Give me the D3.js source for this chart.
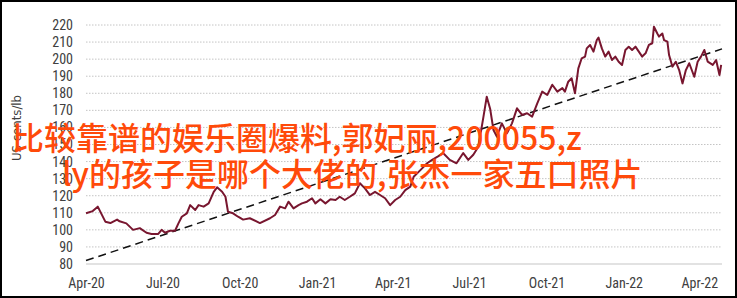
<!DOCTYPE html>
<html>
<head>
<meta charset="utf-8">
<title>coffee price</title>
<script src="https://cdn.jsdelivr.net/npm/d3@7"></script>
<style>
  body { margin: 0; background: #fff; }
  svg { display: block; }
  .tick text { font-family: "Liberation Sans Narrow", "Roboto Condensed", "DejaVu Sans Condensed", sans-serif; }
</style>
</head>
<body>
<svg id="chart" width="737" height="298"></svg>
<script>
// series (US cents/lb)
var dates = ["2020-04-01","2020-04-09","2020-04-15","2020-04-24","2020-04-30","2020-05-08","2020-05-11","2020-05-19",
  "2020-05-27","2020-06-04","2020-06-12","2020-06-18","2020-06-26","2020-06-30","2020-07-04","2020-07-10","2020-07-16",
  "2020-07-20","2020-07-24","2020-07-30","2020-08-03","2020-08-09","2020-08-13","2020-08-19","2020-08-25","2020-08-31",
  "2020-09-04","2020-09-10","2020-09-14","2020-09-17","2020-09-23","2020-09-29","2020-10-05","2020-10-13","2020-10-25",
  "2020-11-06","2020-11-12","2020-11-18","2020-11-24","2020-11-28","2020-12-04","2020-12-10","2020-12-14","2020-12-20",
  "2020-12-26","2020-12-30","2021-01-05","2021-01-11","2021-01-17","2021-01-23","2021-01-28","2021-02-03","2021-02-09",
  "2021-02-15","2021-02-21","2021-02-27","2021-03-05","2021-03-11","2021-03-17","2021-03-23","2021-03-29","2021-04-04",
  "2021-04-10","2021-04-16","2021-04-22","2021-04-26","2021-05-04","2021-05-12","2021-05-18","2021-05-25","2021-05-31",
  "2021-06-08","2021-06-16","2021-06-24","2021-06-30","2021-07-06","2021-07-12","2021-07-18","2021-07-22","2021-07-26",
  "2021-07-30","2021-08-03","2021-08-09","2021-08-15","2021-08-21","2021-08-27","2021-09-02","2021-09-08","2021-09-14",
  "2021-09-20","2021-09-26","2021-10-02","2021-10-08","2021-10-14","2021-10-20","2021-10-23","2021-10-27","2021-10-31",
  "2021-11-04","2021-11-08","2021-11-12","2021-11-16","2021-11-18","2021-11-22","2021-11-26","2021-11-30","2021-12-02",
  "2021-12-06","2021-12-10","2021-12-14","2021-12-18","2021-12-22","2021-12-26","2021-12-30","2022-01-03","2022-01-07",
  "2022-01-11","2022-01-15","2022-01-19","2022-01-23","2022-01-27","2022-01-31","2022-02-04","2022-02-06","2022-02-10",
  "2022-02-12","2022-02-16","2022-02-18","2022-02-22","2022-02-24","2022-02-28","2022-03-04","2022-03-08","2022-03-12",
  "2022-03-16","2022-03-20","2022-03-26","2022-03-30","2022-04-03","2022-04-07","2022-04-11","2022-04-17","2022-04-21",
  "2022-04-25","2022-04-27"];
var prices = [109.7,111,113.6,104.8,104,106,105,103.8,
  100,101,98.3,97.6,97.6,100,98.3,99.5,99.5,
  103.8,107.7,109.7,114.5,111.6,114.5,113.6,115.5,122.3,
  124.9,122.3,119.4,110.6,109.7,107.7,106,106.8,104,
  106.8,108.7,113.6,112.6,116.5,112.6,114.5,115.5,116.5,
  118.5,115.5,117.9,115.5,117.9,117.5,119.4,117.5,119.4,
  121.4,127.3,124.3,120.4,122.3,120.4,118.5,114.5,117.5,
  119.4,123.3,125.3,131.1,135,139,141,143,145,
  141,139,145,141,144,148.7,166,178,171,
  158.5,154.6,162.4,156.5,162.4,171.2,167.3,168.3,166.3,
  174,181,179,185,181,183,181,186.8,188.8,
  180,194.6,200.5,201.5,206.3,208.3,204.4,211.2,212.6,
  206.3,201.5,204.4,199.5,201.5,198.5,196.6,205.4,207.3,
  205.4,207.3,204.4,201.5,203.4,208.3,209.3,219,215,
  213.2,215,211.2,210.2,202.4,195.6,198.5,193.6,185.8,
  193.6,197.6,189.7,198.5,201.5,205.4,198.5,196.6,199.5,
  190.7,196.6];

// dashed trend line end points
var trendDates = ["2020-04-01", "2022-04-28"];
var trendValues = [82, 206];

var yTicks = [80, 90, 100, 110, 120, 130, 140, 150, 160, 170, 180, 190, 200, 210, 220];
var xTickDates = ["2020-04-01","2020-07-01","2020-10-01","2021-01-01","2021-04-01","2021-07-01","2021-10-01","2022-01-01","2022-04-01"];
var xTickLabels = ["Apr-20","Jul-20","Oct-20","Jan-21","Apr-21","Jul-21","Oct-21","Jan-22","Apr-22"];

var overlayLines = ["比较靠谱的娱乐圈爆料,郭妃丽,200055,z", "ly的孩子是哪个大佬的,张杰一家五口照片"];

var parse = d3.timeParse("%Y-%m-%d");
var W = 737, H = 298;
var plotL = 86, plotR = 722, plotT = 25, plotB = 264;

var svg = d3.select("#chart");

var x = d3.scaleTime()
  .domain([parse("2020-04-01"), parse("2022-04-28")])
  .range([plotL, plotR]);
var y = d3.scaleLinear().domain([80, 220]).range([plotB, plotT]);

// dotted gridlines
svg.append("g")
  .selectAll("line")
  .data(yTicks.filter(function(d) { return d > 80; }))
  .enter().append("line")
  .attr("x1", plotL).attr("x2", plotR)
  .attr("y1", function(d) { return y(d); })
  .attr("y2", function(d) { return y(d); })
  .attr("stroke", "#c4c4c4")
  .attr("stroke-width", 1)
  .attr("stroke-dasharray", "1.5,1.5");

// y axis labels
var yAxis = svg.append("g")
  .attr("transform", "translate(" + (plotL - 13) + ",0)")
  .call(d3.axisLeft(y).tickValues(yTicks).tickSize(0).tickPadding(0));
yAxis.select(".domain").remove();
yAxis.selectAll("text").attr("font-size", 14).attr("fill", "#404040");

// baseline
svg.append("line")
  .attr("x1", plotL).attr("x2", plotR)
  .attr("y1", y(80)).attr("y2", y(80))
  .attr("stroke", "#d9d9d9").attr("stroke-width", 1.5);

// x axis labels
var xAxis = svg.append("g")
  .attr("transform", "translate(0," + (y(80) + 14) + ")")
  .call(d3.axisBottom(x)
    .tickValues(xTickDates.map(parse))
    .tickFormat(function(d, i) { return xTickLabels[i]; })
    .tickSize(0).tickPadding(0));
xAxis.select(".domain").remove();
xAxis.selectAll("text").attr("font-size", 14).attr("fill", "#404040");

// y axis title
svg.append("text")
  .attr("transform", "translate(21,128) rotate(-90)")
  .attr("text-anchor", "middle")
  .attr("font-family", "Liberation Sans Narrow, DejaVu Sans Condensed, sans-serif")
  .attr("font-size", 13)
  .attr("fill", "#404040")
  .text("US cents/lb");

// trend line
svg.append("path")
  .datum(trendDates.map(function(d, i) { return { d: parse(d), v: trendValues[i] }; }))
  .attr("fill", "none")
  .attr("stroke", "#111")
  .attr("stroke-width", 1.5)
  .attr("stroke-dasharray", "8,5")
  .attr("d", d3.line().x(function(p) { return x(p.d); }).y(function(p) { return y(p.v); }));

// price series
var series = dates.map(function(d, i) { return { d: parse(d), v: prices[i] }; });
svg.append("path")
  .datum(series)
  .attr("fill", "none")
  .attr("stroke", "#78162f")
  .attr("stroke-width", 2)
  .attr("stroke-linejoin", "round")
  .attr("d", d3.line().x(function(p) { return x(p.d); }).y(function(p) { return y(p.v); }));

// overlay caption
svg.append("g")
  .selectAll("text")
  .data(overlayLines)
  .enter().append("text")
  .attr("x", function(d, i) { return i === 0 ? 12 : 62; })
  .attr("y", function(d, i) { return 150 + i * 36; })
  .attr("font-family", "Noto Sans CJK SC, sans-serif")
  .attr("font-weight", 500)
  .attr("font-size", 32)
  .attr("fill", "#ff4a0a")
  .text(function(d) { return d; });

// frame
svg.append("rect")
  .attr("x", 1).attr("y", 1)
  .attr("width", W - 2).attr("height", H - 2)
  .attr("fill", "none")
  .attr("stroke", "#000")
  .attr("stroke-width", 2);
</script>
</body>
</html>
